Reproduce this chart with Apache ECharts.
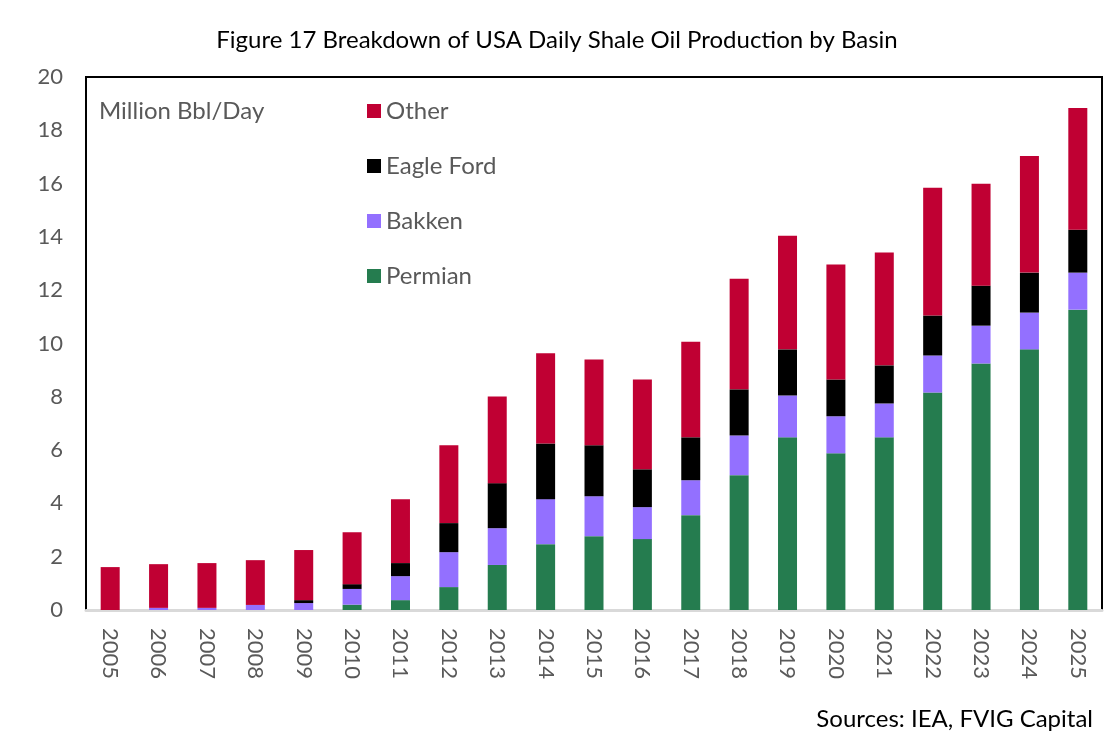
<!DOCTYPE html>
<html>
<head>
<meta charset="utf-8">
<script src="https://cdn.jsdelivr.net/npm/echarts@6/dist/echarts.min.js"></script>
<style>
  html, body { margin: 0; padding: 0; background: #fff; }
  #chart { width: 1114px; height: 752px; }
</style>
</head>
<body>
<div id="chart"></div>
<script>
var years = ['2005','2006','2007','2008','2009','2010','2011','2012','2013','2014','2015',
             '2016','2017','2018','2019','2020','2021','2022','2023','2024','2025'];
var permian   = [0, 0, 0, 0, 0, 0.2, 0.37, 0.86, 1.69, 2.47, 2.77, 2.66, 3.56, 5.06, 6.48, 5.88, 6.48, 8.16, 9.25, 9.78, 11.27];
var bakken    = [0, 0.08, 0.08, 0.19, 0.26, 0.59, 0.9, 1.31, 1.38, 1.69, 1.5, 1.2, 1.31, 1.49, 1.57, 1.39, 1.27, 1.39, 1.42, 1.38, 1.39];
var eagleFord = [0, 0, 0, 0, 0.11, 0.18, 0.49, 1.09, 1.69, 2.09, 1.91, 1.42, 1.61, 1.73, 1.73, 1.38, 1.43, 1.5, 1.5, 1.5, 1.61];
var other     = [1.61, 1.64, 1.68, 1.68, 1.88, 1.95, 2.4, 2.92, 3.25, 3.38, 3.22, 3.37, 3.59, 4.15, 4.26, 4.31, 4.23, 4.79, 3.82, 4.38, 4.57];

var font = 'Lato, "Open Sans", sans-serif';
var grey = '#595959';

var chart = echarts.init(document.getElementById('chart'));

function bar(name, data, color) {
    return {
        name: name,
        type: 'bar',
        stack: 'total',
        barWidth: 19,
        itemStyle: { color: color },
        data: data
    };
}

var option = {
    animation: false,
    textStyle: { fontFamily: font },
    title: [
        {
            text: 'Figure 17 Breakdown of USA Daily Shale Oil Production by Basin',
            left: 'center',
            top: 23,
            textStyle: { fontFamily: font, fontSize: 24, fontWeight: 'normal', color: '#000' }
        },
        {
            text: 'Million Bbl/Day',
            left: 94,
            top: 94,
            textStyle: { fontFamily: font, fontSize: 24, fontWeight: 'normal', color: grey }
        },
        {
            text: 'Sources: IEA, FVIG Capital',
            right: 16,
            top: 702,
            textStyle: { fontFamily: font, fontSize: 24, fontWeight: 'normal', color: '#000' }
        }
    ],
    legend: {
        orient: 'vertical',
        left: 362,
        top: 94,
        itemWidth: 14,
        itemHeight: 14,
        itemGap: 31,
        icon: 'rect',
        data: ['Other', 'Eagle Ford', 'Bakken', 'Permian'],
        textStyle: { fontFamily: font, fontSize: 24, lineHeight: 24, color: grey }
    },
    grid: {
        left: 86,
        top: 77,
        width: 1016,
        height: 533,
        show: true,
        borderColor: '#000',
        borderWidth: 2,
        containLabel: false
    },
    xAxis: {
        type: 'category',
        data: years,
        axisLine: { show: true, lineStyle: { color: '#d9d9d9', width: 3 } },
        axisTick: { show: false },
        axisLabel: { rotate: -90, fontSize: 22, color: grey, margin: 18, fontFamily: font }
    },
    yAxis: {
        type: 'value',
        min: 0,
        max: 20,
        interval: 2,
        splitLine: { show: false },
        axisLine: { show: false },
        axisTick: { show: false },
        axisLabel: { fontSize: 22, color: grey, margin: 23, fontFamily: font }
    },
    series: [
        bar('Permian', permian, '#257C4F'),
        bar('Bakken', bakken, '#9370FF'),
        bar('Eagle Ford', eagleFord, '#000000'),
        bar('Other', other, '#C00033')
    ]
};

chart.setOption(option);
</script>
</body>
</html>
